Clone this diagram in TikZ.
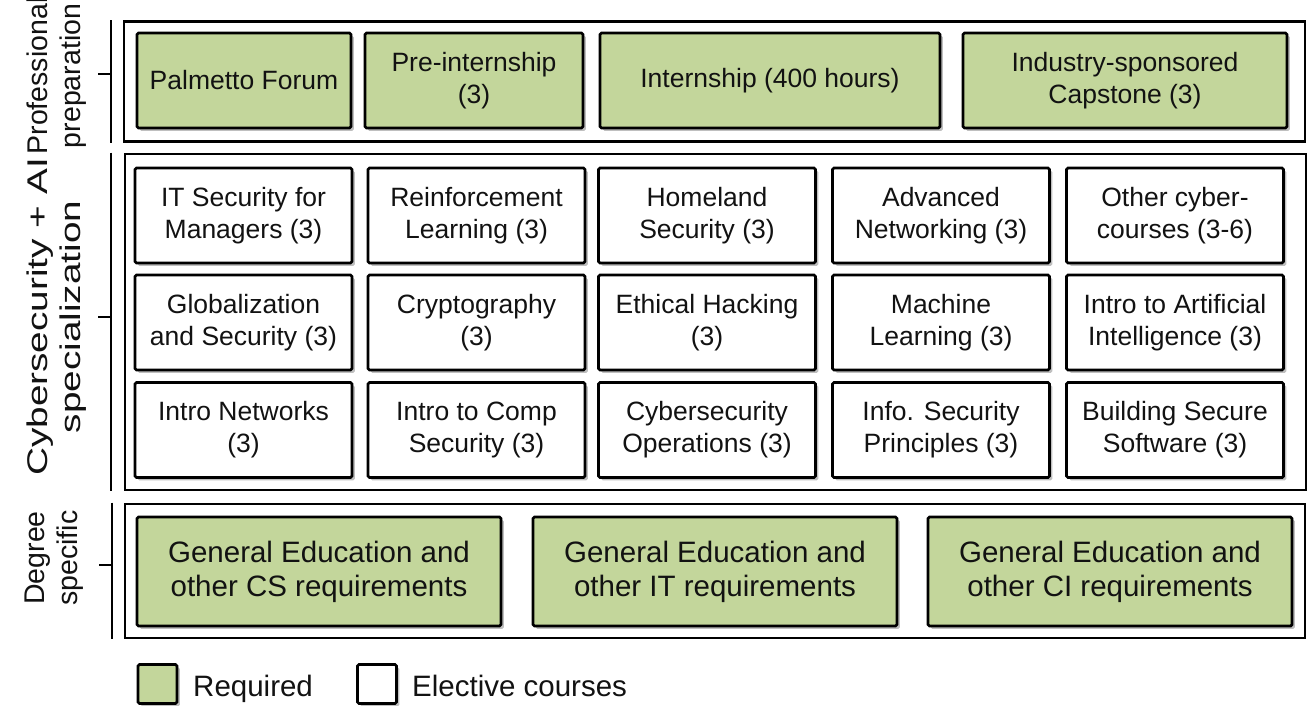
\documentclass[tikz,border=0pt]{standalone}
\usepackage{fontspec}
\setmainfont{Liberation Sans}
\usetikzlibrary{shadows}
\definecolor{reqgreen}{RGB}{195,214,155}
\definecolor{txt}{RGB}{18,18,18}
\begin{document}
\begin{tikzpicture}[x=1pt,y=-1pt,
  every node/.style={text=txt},
  basebox/.style={draw=black, line width=2.8pt, rounded corners=1.5pt, align=center, inner sep=0pt,
    drop shadow={shadow xshift=2.8pt, shadow yshift=-2.8pt, opacity=0.25, fill=black},
    font=\fontsize{26.5}{32}\selectfont},
  reqbox/.style={basebox, fill=reqgreen},
  elbox/.style={basebox, fill=white, minimum width=217pt, minimum height=95pt},
  bigreq/.style={reqbox, minimum width=364pt, minimum height=109pt, font=\fontsize{29.5}{34}\selectfont},
  frame/.style={draw=black, line width=2.8pt, fill=white, inner sep=0pt},
  bracket/.style={draw=black, line width=2pt},
  lab/.style={align=center, inner sep=0pt, font=\fontsize{28.5}{33}\selectfont},
  legbox/.style={draw=black, line width=2.8pt, rounded corners=1.5pt, minimum width=39pt, minimum height=39pt, inner sep=0pt,
    drop shadow={shadow xshift=2.8pt, shadow yshift=-2.8pt, opacity=0.25, fill=black}},
  legtxt/.style={anchor=base west, inner sep=0pt, font=\fontsize{29.5}{34}\selectfont}
]
\useasboundingbox (0,0) rectangle (1310,705);

% frames
\node[frame, minimum width=1181pt, minimum height=120pt] (prof) at (714.5,81.5) {};
\node[frame, minimum width=1181pt, minimum height=336pt] (cyb) at (715.5,322) {};
\node[frame, minimum width=1180pt, minimum height=134pt] (deg) at (715,571) {};

% brackets
\draw[bracket] ([xshift=-12pt]prof.north west) -- ([xshift=-12pt]prof.south west);
\draw[bracket] ([xshift=-12pt,yshift=7.5pt]prof.west) -- ++(-13,0);
\draw[bracket] ([xshift=-13pt]cyb.north west) -- ([xshift=-13pt]cyb.south west);
\draw[bracket] ([xshift=-13pt,yshift=5pt]cyb.west) -- ++(-13,0);
\draw[bracket] ([xshift=-12pt]deg.north west) -- ([xshift=-12pt]deg.south west);
\draw[bracket] ([xshift=-12pt,yshift=6pt]deg.west) -- ++(-13,0);

% side labels
\node[lab, rotate=90] (lprof) at (57,76) {Professional\\preparation};
\node[lab, rotate=90] (lcyb) at (57,317) {\scalebox{1.36}[1]{\begin{tabular}{@{}c@{}}Cybersecurity + AI\\specialization\end{tabular}}};
\node[lab, rotate=90] (ldeg) at (54,558) {Degree\\specific};

% professional preparation
\node[reqbox, minimum width=214pt, minimum height=95pt] (pf) at (244,80.5) {Palmetto Forum};
\node[reqbox, minimum width=218pt, minimum height=95pt] (pi) at (474,80.5) {Pre-internship\\(3)};
\node[reqbox, minimum width=340pt, minimum height=95pt] (in) at (770,80.5) {Internship (400 hours)};
\node[reqbox, minimum width=324pt, minimum height=95pt] (ic) at (1125,80.5) {Industry-sponsored\\Capstone (3)};

% cybersecurity + AI grid
\node[elbox] (c11) at (243.5,215.5) {IT Security for\\Managers (3)};
\node[elbox] (c12) at (476.5,215.5) {Reinforcement\\Learning (3)};
\node[elbox] (c13) at (707,215.5) {Homeland\\Security (3)};
\node[elbox] (c14) at (941,215.5) {Advanced\\Networking (3)};
\node[elbox] (c15) at (1175,215.5) {Other cyber-\\courses (3-6)};

\node[elbox] (c21) at (243.5,322.5) {Globalization\\and Security (3)};
\node[elbox] (c22) at (476.5,322.5) {Cryptography\\(3)};
\node[elbox] (c23) at (707,322.5) {Ethical Hacking\\(3)};
\node[elbox] (c24) at (941,322.5) {Machine\\Learning (3)};
\node[elbox] (c25) at (1175,322.5) {Intro to Artificial\\Intelligence (3)};

\node[elbox] (c31) at (243.5,430) {Intro Networks\\(3)};
\node[elbox] (c32) at (476.5,430) {Intro to Comp\\Security (3)};
\node[elbox] (c33) at (707,430) {Cybersecurity\\Operations (3)};
\node[elbox] (c34) at (941,430) {Info. Security\\Principles (3)};
\node[elbox] (c35) at (1175,430) {Building Secure\\Software (3)};

% degree specific
\node[bigreq] (d1) at (319,571.5) {General Education and\\other CS requirements};
\node[bigreq] (d2) at (715,571.5) {General Education and\\other IT requirements};
\node[bigreq] (d3) at (1110,571.5) {General Education and\\other CI requirements};

% legend
\node[legbox, fill=reqgreen] (lg1) at (157.5,684) {};
\node[legtxt] (lt1) at (193,696) {Required};
\node[legbox, fill=white] (lg2) at (377,684) {};
\node[legtxt] (lt2) at (412,696) {Elective courses};
\end{tikzpicture}
\end{document}
